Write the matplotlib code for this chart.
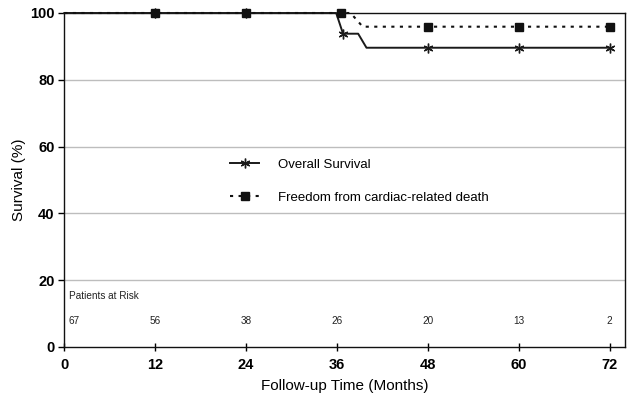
import matplotlib
matplotlib.use("Agg")
import matplotlib.pyplot as plt

plt.rcParams['font.family'] = ['Liberation Sans', 'DejaVu Sans']

# Data
months_os = [0, 12, 24, 35.9, 36.8, 38.8, 39.9, 48, 60, 72]
overall_survival = [100, 100, 100, 100, 93.8, 93.8, 89.6, 89.6, 89.6, 89.6]
os_marker_idx = [1, 2, 4, 7, 8, 9]

months_cfd = [0, 12, 24, 36.5, 37.8, 39.4, 48, 60, 72]
freedom_cardiac = [100, 100, 100, 100, 100, 95.9, 95.9, 95.9, 95.9]
cfd_marker_idx = [1, 2, 3, 6, 7, 8]

risk_months = [1.3, 12, 24, 36, 48, 60, 72]
patients_at_risk = [67, 56, 38, 26, 20, 13, 2]

x_ticks = [0, 12, 24, 36, 48, 60, 72]
y_ticks = [0, 20, 40, 60, 80, 100]

fig = plt.figure(figsize=(6.31, 4.0), dpi=100)
ax = fig.add_axes([0.102, 0.1325, 0.888, 0.835])

ax.set_xlim(0, 74)
ax.set_ylim(0, 100)

for y in [20, 40, 60, 80]:
    ax.axhline(y, color='#bdbdbd', lw=1.0, zorder=0)

ax.plot(months_os, overall_survival, color='#1a1a1a', lw=1.4,
        marker=(6, 2, 0), markersize=7, markeredgewidth=1.0,
        markevery=os_marker_idx, label='Overall Survival',
        clip_on=False, zorder=3)
ax.plot(months_cfd, freedom_cardiac, color='#111111', lw=1.5,
        linestyle=(0, (1.5, 2.6)), marker='s', markersize=5.5,
        markevery=cfd_marker_idx, label='Freedom from cardiac-related death',
        clip_on=False, zorder=4)

ax.text(0.6, 15.3, 'Patients at Risk', fontsize=7.2, color='#222222',
        ha='left', va='center')
for m, n in zip(risk_months, patients_at_risk):
    ax.text(m, 7.8, str(n), fontsize=7.2, color='#222222',
            ha='center', va='center')

ax.set_xticks(x_ticks)
ax.set_yticks(y_ticks)
ax.set_xticklabels([str(t) for t in x_ticks], fontsize=10.5, fontweight='bold')
ax.set_yticklabels([str(t) for t in y_ticks], fontsize=10.5, fontweight='bold')
ax.tick_params(axis='x', direction='inout', length=6, width=1, pad=5)
ax.tick_params(axis='y', direction='out', length=4, width=1, pad=3)

for s in ax.spines.values():
    s.set_color('#111111')
    s.set_linewidth(1.0)

ax.set_xlabel('Follow-up Time (Months)', fontsize=11, labelpad=5)
ax.set_ylabel('Survival (%)', fontsize=11, labelpad=3)

leg = ax.legend(loc='upper left', bbox_to_anchor=(0.275, 0.60), frameon=False,
                fontsize=9.5, handlelength=2.2, labelspacing=1.6,
                numpoints=1, handletextpad=1.4)

fig.savefig('out.png', dpi=100)
